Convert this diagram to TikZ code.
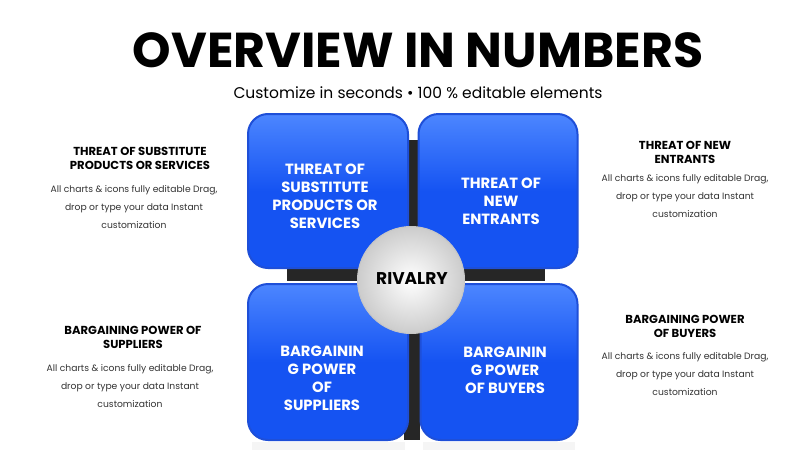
\documentclass[tikz,border=0pt]{standalone}
\usepackage{fontspec}
\setmainfont{Poppins}
\usetikzlibrary{shadings}
\definecolor{bblue}{HTML}{1553F2}
\definecolor{bblueL}{HTML}{4C86FF}
\definecolor{bedge}{HTML}{1E4FD8}
\definecolor{txtgray}{HTML}{333333}
\tikzset{
  quad/.style={draw=bedge, line width=2pt, rounded corners=20pt, top color=bblueL, bottom color=bblue, middle color=bblue},
  quadtxt/.style={text=white, font=\fontsize{14.8}{18}\selectfont\bfseries, align=center},
  head/.style={font=\fontsize{11.6}{14}\selectfont\bfseries, align=center, text=black},
  body/.style={font=\fontsize{9.2}{18}\selectfont, align=center, text=txtgray},
}
\begin{document}
\begin{tikzpicture}[x=1pt,y=-1pt]
\useasboundingbox (0,0) rectangle (800,450);
\fill[white] (0,0) rectangle (800,450);
% title
\node (title) at (418,50) {\fontsize{49}{50}\selectfont\bfseries OVERVIEW IN NUMBERS};
\node (sub) at (418,93) {\fontsize{15.5}{16}\selectfont Customize in seconds • 100 \% editable elements};
% faint reflection
\fill[gray!8] (252,442) rectangle (405,450);
\fill[gray!8] (423,442) rectangle (575,450);
% black cross
\fill[black!85] (404,140) rectangle (420,440);
\fill[black!85] (287,268) rectangle (545,281);
% quadrants
\node[quad, minimum width=160pt, minimum height=154pt] (tl) at (328,191) {};
\node[quad, minimum width=159pt, minimum height=154pt] (tr) at (498,191) {};
\node[quad, minimum width=160pt, minimum height=156pt] (bl) at (328,362) {};
\node[quad, minimum width=157pt, minimum height=156pt] (br) at (499,362) {};
\node[quadtxt] at (325,196) {THREAT OF\\SUBSTITUTE\\PRODUCTS OR\\SERVICES};
\node[quadtxt] at (501,201) {THREAT OF\\NEW\\ENTRANTS};
\node[quadtxt] at (322,378) {BARGAININ\\G POWER\\OF\\SUPPLIERS};
\node[quadtxt] at (505,370) {BARGAININ\\G POWER\\OF BUYERS};
% center circle
\node[circle, minimum size=107pt, draw=gray!45, line width=1pt, inner color=white, outer color=gray!40] (riv) at (411,280) {};
\node[font=\fontsize{17}{18}\selectfont\bfseries] at (412,279) {RIVALRY};
% side texts
\node[head] (h1) at (140,158) {THREAT OF SUBSTITUTE\\PRODUCTS OR SERVICES};
\node[body] (b1) at (134,207) {All charts \& icons fully editable Drag,\\drop or type your data Instant\\customization};
\node[head] (h2) at (685,152) {THREAT OF NEW\\ENTRANTS};
\node[body] (b2) at (685,196) {All charts \& icons fully editable Drag,\\drop or type your data Instant\\customization};
\node[head] (h3) at (133,337) {BARGAINING POWER OF\\SUPPLIERS};
\node[body] (b3) at (130,386) {All charts \& icons fully editable Drag,\\drop or type your data Instant\\customization};
\node[head] (h4) at (685,326) {BARGAINING POWER\\OF BUYERS};
\node[body] (b4) at (685,374) {All charts \& icons fully editable Drag,\\drop or type your data Instant\\customization};
\end{tikzpicture}
\end{document}
